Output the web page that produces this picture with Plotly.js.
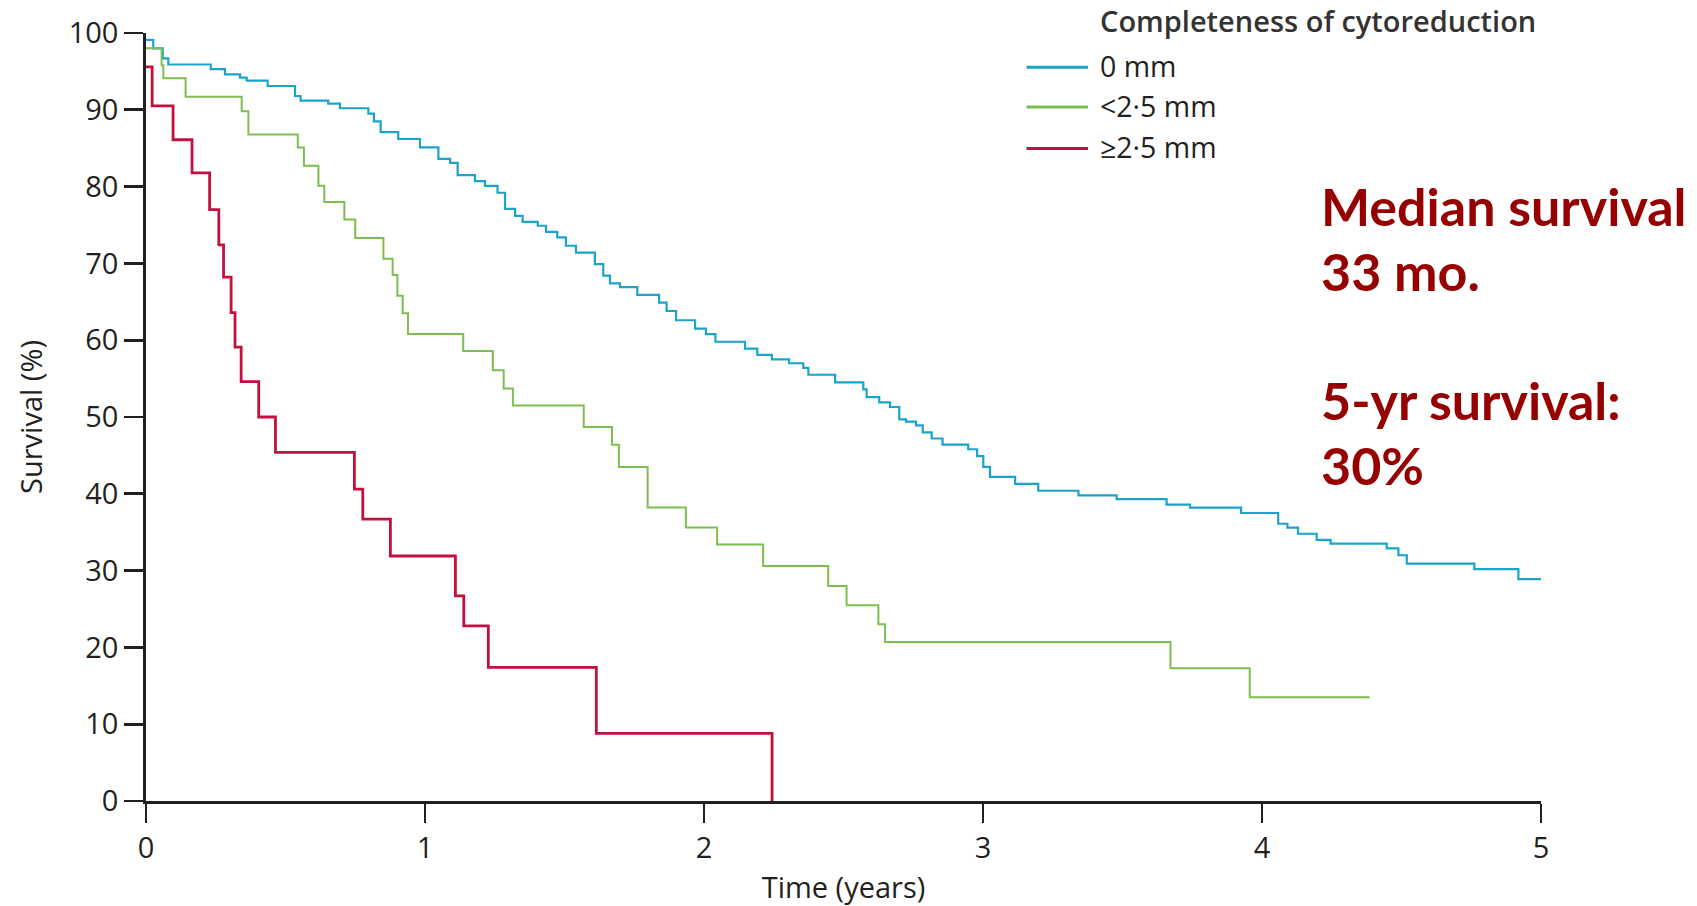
<!DOCTYPE html>
<html>
<head>
<meta charset="utf-8">
<script src="https://cdn.plot.ly/plotly-3.0.1.min.js"></script>
<style>
html, body { margin: 0; padding: 0; background: #ffffff; }
#chart { width: 1697px; height: 906px; }
</style>
</head>
<body>
<div id="chart"></div>
<script>
// ---- Data ----
const seriesNames = ['0 mm', '<2·5 mm', '≥2·5 mm'];
const seriesColors = ['#1ca3c9', '#7cbf50', '#c4103e'];

// 0 mm
const timeBlue = [0, 0.026, 0.060, 0.080, 0.232, 0.283, 0.337, 0.361, 0.436, 0.534, 0.554, 0.653, 0.695, 0.797, 0.817, 0.841, 0.904, 0.982,
  1.048, 1.090, 1.117, 1.179, 1.215, 1.260, 1.287, 1.323, 1.350, 1.404, 1.434, 1.474, 1.505, 1.541, 1.609, 1.639, 1.663, 1.699, 1.761, 1.839, 1.866, 1.900, 1.968,
  2.007, 2.041, 2.147, 2.191, 2.243, 2.305, 2.356, 2.374, 2.470, 2.571, 2.583, 2.628, 2.667, 2.700, 2.724, 2.760, 2.784, 2.816, 2.855, 2.947, 2.979,
  3.001, 3.025, 3.115, 3.198, 3.342, 3.479, 3.658, 3.742, 3.925,
  4.058, 4.091, 4.129, 4.196, 4.246, 4.447, 4.489, 4.519, 4.761, 4.919, 5.000];
const survBlue = [99.1, 98.0, 96.7, 95.9, 95.3, 94.6, 94.2, 93.8, 93.1, 91.8, 91.2, 90.8, 90.2, 89.5, 88.5, 87.1, 86.2, 85.1,
  83.6, 83.1, 81.5, 80.7, 80.1, 79.2, 77.1, 76.2, 75.4, 74.9, 74.1, 73.4, 72.3, 71.4, 69.9, 68.4, 67.4, 66.9, 65.9, 64.9, 63.8, 62.6, 61.5,
  60.8, 59.8, 58.9, 58.1, 57.5, 57.0, 56.4, 55.5, 54.5, 53.6, 52.6, 51.9, 51.3, 49.7, 49.4, 48.9, 48.0, 47.2, 46.4, 45.8, 44.9,
  43.5, 42.2, 41.3, 40.4, 39.8, 39.3, 38.6, 38.2, 37.5,
  36.1, 35.6, 34.8, 34.0, 33.5, 32.9, 32.0, 30.9, 30.2, 28.9, 28.9];

// <2·5 mm
const timeGreen = [0, 0.056, 0.062, 0.142, 0.343, 0.367, 0.544, 0.566, 0.618, 0.639, 0.711, 0.750, 0.851, 0.884, 0.901, 0.920, 0.939,
  1.137, 1.243, 1.282, 1.315, 1.569, 1.670, 1.695, 1.798, 1.935, 2.047, 2.212, 2.445, 2.511, 2.625, 2.649, 3.672, 3.956, 4.386];
const survGreen = [98.0, 95.8, 94.1, 91.7, 89.8, 86.8, 85.1, 82.7, 80.1, 78.0, 75.7, 73.3, 70.6, 68.5, 65.8, 63.5, 60.8,
  58.6, 56.1, 53.7, 51.5, 48.7, 46.4, 43.5, 38.2, 35.6, 33.4, 30.6, 28.0, 25.5, 23.0, 20.7, 17.3, 13.5, 13.5];

// >=2·5 mm
const timeRed = [0, 0.022, 0.097, 0.165, 0.228, 0.261, 0.278, 0.305, 0.319, 0.341, 0.404, 0.464, 0.747, 0.777, 0.876, 1.109, 1.139, 1.227, 1.614, 2.244];
const survRed = [95.6, 90.5, 86.1, 81.8, 77.0, 72.4, 68.2, 63.6, 59.1, 54.6, 50.0, 45.4, 40.6, 36.7, 31.9, 26.7, 22.8, 17.4, 8.8, 0];

const xTickVals = [0, 1, 2, 3, 4, 5];
const yTickVals = [0, 10, 20, 30, 40, 50, 60, 70, 80, 90, 100];

const legendTitle = 'Completeness of cytoreduction';
const noteLines = ['Median survival', '33 mo.', '5-yr survival:', '30%'];

// ---- Figure ----
const times = [timeBlue, timeGreen, timeRed];
const survs = [survBlue, survGreen, survRed];
const widths = [2.2, 2.0, 2.8];

const traces = seriesNames.map((n, i) => ({
  type: 'scatter', mode: 'lines', name: n,
  x: times[i], y: survs[i],
  line: { shape: 'hv', color: seriesColors[i], width: widths[i] },
  showlegend: false, hoverinfo: 'x+y+name'
}));

const axisColor = '#231f20';
const fam = 'Open Sans, Noto Sans, sans-serif';
const baseFont = { family: fam, size: 29, color: axisColor };

function esc(s) { return s.replace(/&/g, '&amp;').replace(/</g, '&lt;').replace(/>/g, '&gt;'); }

// custom legend geometry (paper coords)
const legX0 = 0.6312, legX1 = 0.6753, legTextX = 0.6825;
const legY = [0.9575, 0.9055, 0.8515];

const shapes = seriesNames.map((n, i) => ({
  type: 'line', xref: 'paper', yref: 'paper',
  x0: legX0, x1: legX1, y0: legY[i] - 0.002, y1: legY[i] - 0.002,
  line: { color: seriesColors[i], width: 3 }
}));

const annotations = seriesNames.map((n, i) => ({
  xref: 'paper', yref: 'paper', x: legTextX, y: legY[i],
  xanchor: 'left', yanchor: 'middle', showarrow: false,
  text: esc(n), font: { family: fam, size: 28.5, color: axisColor }
}));
annotations.push({
  xref: 'paper', yref: 'paper', x: legTextX, y: 1.0157,
  xanchor: 'left', yanchor: 'middle', showarrow: false,
  text: legendTitle, font: { family: fam, size: 29, color: '#333333', weight: 600 }
});
// big red note, one annotation per line
const noteY = [0.7753, 0.6906, 0.5215, 0.4370];
noteLines.forEach((t, i) => annotations.push({
  xref: 'paper', yref: 'paper', x: 0.8408, y: noteY[i],
  xanchor: 'left', yanchor: 'middle', align: 'left', showarrow: false,
  text: t,
  font: { family: 'Lato, Noto Sans, sans-serif', size: 52, color: '#960000', weight: 700 }
}));

const layout = {
  width: 1697, height: 906,
  margin: { l: 146, r: 156, t: 33, b: 105, pad: 0 },
  paper_bgcolor: '#ffffff', plot_bgcolor: '#ffffff',
  font: baseFont,
  showlegend: false,
  xaxis: {
    range: [0, 5], tickvals: xTickVals, ticktext: xTickVals.map(String),
    showgrid: false, zeroline: false, showline: true, linecolor: axisColor, linewidth: 2.8,
    ticks: 'outside', ticklen: 19, tickwidth: 2.8, tickcolor: axisColor,
    tickfont: { family: fam, size: 29, color: axisColor },
    title: { text: 'Time (years)', font: { family: fam, size: 29, color: axisColor }, standoff: 16 },
    layer: 'above traces', fixedrange: true
  },
  yaxis: {
    range: [0, 100], tickvals: yTickVals, ticktext: yTickVals.map(String),
    showgrid: false, zeroline: false, showline: true, linecolor: axisColor, linewidth: 2.8,
    ticks: 'outside', ticklen: 19, tickwidth: 2.8, tickcolor: axisColor,
    tickfont: { family: fam, size: 29, color: axisColor },
    title: { text: 'Survival (%)', font: { family: fam, size: 29, color: axisColor }, standoff: 18 },
    layer: 'above traces', fixedrange: true
  },
  shapes: shapes,
  annotations: annotations
};

Plotly.newPlot('chart', traces, layout, { displayModeBar: false, staticPlot: true });
</script>
</body>
</html>
